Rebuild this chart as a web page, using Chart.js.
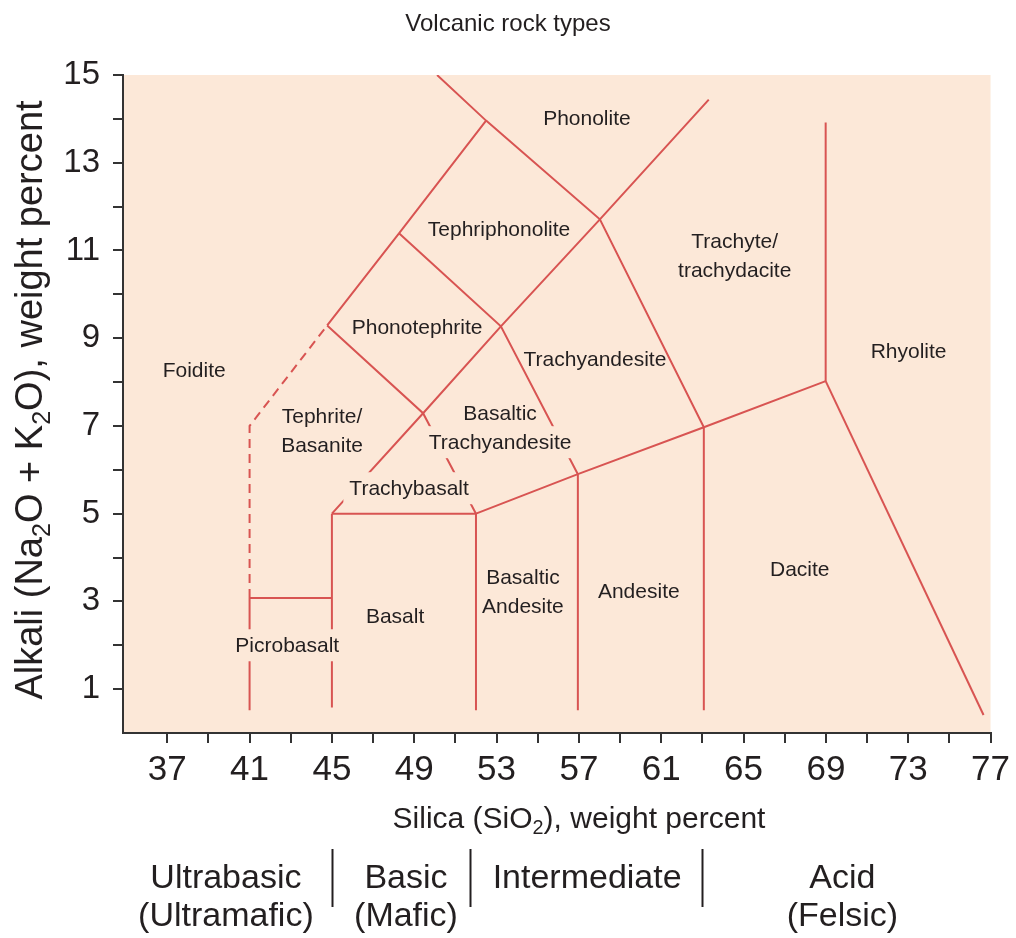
<!DOCTYPE html>
<html>
<head>
<meta charset="utf-8">
<title>Volcanic rock types</title>
<script src="https://cdn.jsdelivr.net/npm/chart.js@4.4.1/dist/chart.umd.min.js"></script>
<style>
  html, body { margin: 0; padding: 0; background: #ffffff; }
  #tas { display: block; }
</style>
</head>
<body>
<canvas id="tas" width="1016" height="938"></canvas>
<script>
// ---- axis ticks ----
const xTickValues = [37, 39, 41, 43, 45, 47, 49, 51, 53, 55, 57, 59, 61, 63, 65, 67, 69, 71, 73, 75, 77];
const xTickLabels = ['37', '', '41', '', '45', '', '49', '', '53', '', '57', '', '61', '', '65', '', '69', '', '73', '', '77'];
const yTickValues = [1, 2, 3, 4, 5, 6, 7, 8, 9, 10, 11, 12, 13, 14, 15];
const yTickLabels = ['1', '', '3', '', '5', '', '7', '', '9', '', '11', '', '13', '', '15'];

// ---- field boundaries, [SiO2 wt%, Na2O + K2O wt%] ----
const foiditeLimit        = [[41, 3.08], [41, 7.0], [44.77, 9.29]];
const picrobasaltLeft     = [[41, 0.52], [41, 3.08]];
const picrobasaltTop      = [[41, 3.08], [45, 3.08]];
const basaltLeft          = [[45, 0.58], [45, 5.0]];
const basaltTop           = [[45, 5.0], [52, 5.0]];
const basaltRight         = [[52, 0.52], [52, 5.0]];
const subalkalineTop      = [[52, 5.0], [56.95, 5.9], [63.07, 6.97], [68.99, 8.02]];
const andesiteLeft        = [[56.95, 0.52], [56.95, 5.9]];
const daciteLeft          = [[63.07, 0.52], [63.07, 6.97]];
const rhyoliteLeft        = [[68.99, 8.02], [68.99, 13.92]];
const rhyoliteBase        = [[68.99, 8.02], [76.66, 0.41]];
const alkaliDivide        = [[45, 5.0], [49.43, 7.29], [53.21, 9.27], [58.02, 11.71], [63.31, 14.44]];
const tephriteTop         = [[44.77, 9.29], [49.43, 7.29], [52, 5.0]];
const phonotephriteTop    = [[44.77, 9.29], [48.26, 11.39], [52.49, 13.96]];
const tephriphonoliteBase = [[48.26, 11.39], [53.21, 9.27], [56.95, 5.9]];
const phonoliteBase       = [[50.11, 15.0], [52.49, 13.96], [58.02, 11.71], [63.07, 6.97]];

const solidBoundaries = [picrobasaltLeft, picrobasaltTop, basaltLeft, basaltTop, basaltRight,
  subalkalineTop, andesiteLeft, daciteLeft, rhyoliteLeft, rhyoliteBase, alkaliDivide,
  tephriteTop, phonotephriteTop, tephriphonoliteBase, phonoliteBase];
const dashedBoundaries = [foiditeLimit];

// ---- rock names and where they sit ----
const rockNames = [
  ['Foidite'], ['Phonolite'], ['Tephriphonolite'], ['Trachyte/', 'trachydacite'],
  ['Phonotephrite'], ['Rhyolite'], ['Trachyandesite'], ['Tephrite/', 'Basanite'],
  ['Basaltic', 'Trachyandesite'], ['Trachybasalt'], ['Basaltic', 'Andesite'],
  ['Andesite'], ['Dacite'], ['Basalt'], ['Picrobasalt']
];
const rockNameSiO2   = [38.31, 57.39, 53.12, 64.57, 49.14, 73.02, 57.78, 44.52, 53.17, 48.75, 54.28, 59.91, 67.73, 48.07, 42.83];
const rockNameAlkali = [8.27, 14.01, 11.48, 10.89, 9.25, 8.70, 8.52, 6.90, 6.96, 5.58, 3.21, 3.23, 3.74, 2.67, 2.00];
// name lines ("label:line") that sit on a cleared patch, so the boundary stops short of the text
const clearedNameLines = ['8:1', '9:0', '14:0'];

// ---- silica classes below the axis ----
const silicaClasses = [['Ultrabasic', '(Ultramafic)'], ['Basic', '(Mafic)'], ['Intermediate'], ['Acid', '(Felsic)']];
const silicaClassCentres = [39.85, 48.6, 57.4, 69.8];
const silicaClassBreaks = [45, 51.7, 63];

// ---- titles ----
const chartTitle = 'Volcanic rock types';
const xTitleParts = [['Silica (SiO', false], ['2', true], ['), weight percent', false]];
const yTitleParts = [['Alkali (Na', false], ['2', true], ['O + K', false], ['2', true], ['O), weight percent', false]];

// ---- style ----
const FAMILY = '"Liberation Sans", Arial, Helvetica, sans-serif';
const plotFill = '#fce8d8';
const lineRed = '#d85452';
const ink = '#231f20';
const axisInk = '#333333';

function font(size) { return size + 'px ' + FAMILY; }
function toPoints(line) { return line.map(([x, y]) => ({ x, y })); }

function richWidth(ctx, parts, size) {
  let w = 0;
  parts.forEach(([t, sub]) => { ctx.font = font(sub ? size * 0.66 : size); w += ctx.measureText(t).width; });
  return w;
}
function drawRich(ctx, parts, left, baseline, size) {
  let cx = left;
  parts.forEach(([t, sub]) => {
    const s = sub ? size * 0.66 : size;
    ctx.font = font(s);
    ctx.fillText(t, cx, baseline + (sub ? size * 0.2 : 0));
    cx += ctx.measureText(t).width;
  });
}

const plotBackground = {
  id: 'plotBackground',
  beforeDraw(chart) {
    const { ctx, chartArea: a } = chart;
    ctx.save();
    ctx.fillStyle = '#ffffff';
    ctx.fillRect(0, 0, chart.width, chart.height);
    ctx.fillStyle = plotFill;
    ctx.fillRect(a.left, a.top, a.right - a.left, a.bottom - a.top);
    ctx.restore();
  }
};

const rockNameLabels = {
  id: 'rockNameLabels',
  afterDatasetsDraw(chart) {
    const { ctx, scales: { x, y } } = chart;
    const size = 21, lineGap = 29;
    ctx.save();
    ctx.font = font(size);
    ctx.textAlign = 'center';
    ctx.textBaseline = 'middle';
    rockNames.forEach((lines, i) => {
      const cx = x.getPixelForValue(rockNameSiO2[i]);
      const cy = y.getPixelForValue(rockNameAlkali[i]);
      const first = cy - (lines.length - 1) * lineGap / 2;
      lines.forEach((text, j) => {
        const ly = first + j * lineGap;
        if (clearedNameLines.includes(i + ':' + j)) {
          const w = ctx.measureText(text).width;
          ctx.fillStyle = plotFill;
          ctx.fillRect(cx - w / 2 - 6, ly - 16, w + 12, 32);
        }
        ctx.fillStyle = ink;
        ctx.fillText(text, cx, ly + 1);
      });
    });
    ctx.restore();
  }
};

const outerText = {
  id: 'outerText',
  afterDraw(chart) {
    const { ctx, chartArea: a, scales: { x } } = chart;
    ctx.save();
    ctx.fillStyle = ink;
    ctx.textBaseline = 'alphabetic';

    // chart title
    ctx.font = font(24);
    ctx.textAlign = 'center';
    ctx.fillText(chartTitle, chart.width / 2, 31);

    // x axis title
    ctx.textAlign = 'left';
    const xs = 30;
    const xw = richWidth(ctx, xTitleParts, xs);
    drawRich(ctx, xTitleParts, 579 - xw / 2, 828, xs);

    // y axis title, reading upwards
    const ys = 38;
    const yw = richWidth(ctx, yTitleParts, ys);
    ctx.save();
    ctx.translate(42, 400);
    ctx.rotate(-Math.PI / 2);
    drawRich(ctx, yTitleParts, -yw / 2, 0, ys);
    ctx.restore();

    // silica classes
    ctx.font = font(34);
    ctx.textAlign = 'center';
    silicaClasses.forEach((lines, i) => {
      const cx = x.getPixelForValue(silicaClassCentres[i]);
      lines.forEach((t, j) => ctx.fillText(t, cx, 888 + j * 38));
    });
    ctx.strokeStyle = ink;
    ctx.lineWidth = 2;
    silicaClassBreaks.forEach(v => {
      const px = Math.round(x.getPixelForValue(v)) + 0.5;
      ctx.beginPath();
      ctx.moveTo(px, 849);
      ctx.lineTo(px, 907);
      ctx.stroke();
    });
    ctx.restore();
  }
};

const datasets = [
  ...solidBoundaries.map(line => ({
    data: toPoints(line), showLine: true, pointRadius: 0, borderColor: lineRed,
    borderWidth: 2, fill: false, tension: 0
  })),
  ...dashedBoundaries.map(line => ({
    data: toPoints(line), showLine: true, pointRadius: 0, borderColor: lineRed,
    borderWidth: 2, borderDash: [9, 6], fill: false, tension: 0
  }))
];

Chart.defaults.font.family = FAMILY;

new Chart(document.getElementById('tas'), {
  type: 'scatter',
  data: { datasets },
  options: {
    responsive: false,
    animation: false,
    devicePixelRatio: 1,
    layout: { padding: { top: 75, right: 22, bottom: 0, left: 0 } },
    plugins: { legend: { display: false }, tooltip: { enabled: false }, title: { display: false } },
    events: [],
    scales: {
      x: {
        type: 'linear',
        min: 34.85,
        max: 77,
        afterBuildTicks: axis => { axis.ticks = xTickValues.map(v => ({ value: v })); },
        afterFit: axis => { axis.height = 205; },
        ticks: {
          autoSkip: false, maxRotation: 0, minRotation: 0,
          padding: 6, color: ink, font: { size: 35 },
          callback: (v, i) => xTickLabels[i]
        },
        grid: { drawOnChartArea: false, drawTicks: true, tickLength: 10, color: axisInk, lineWidth: 2 },
        border: { display: true, color: axisInk, width: 2 }
      },
      y: {
        type: 'linear',
        min: 0,
        max: 15,
        afterBuildTicks: axis => { axis.ticks = yTickValues.map(v => ({ value: v })); },
        afterFit: axis => { axis.width = 123; },
        ticks: {
          autoSkip: false, padding: 13, color: ink, font: { size: 33 },
          callback: (v, i) => yTickLabels[i]
        },
        grid: { drawOnChartArea: false, drawTicks: true, tickLength: 10, color: axisInk, lineWidth: 2 },
        border: { display: true, color: axisInk, width: 2 }
      }
    }
  },
  plugins: [plotBackground, rockNameLabels, outerText]
});
</script>
</body>
</html>
